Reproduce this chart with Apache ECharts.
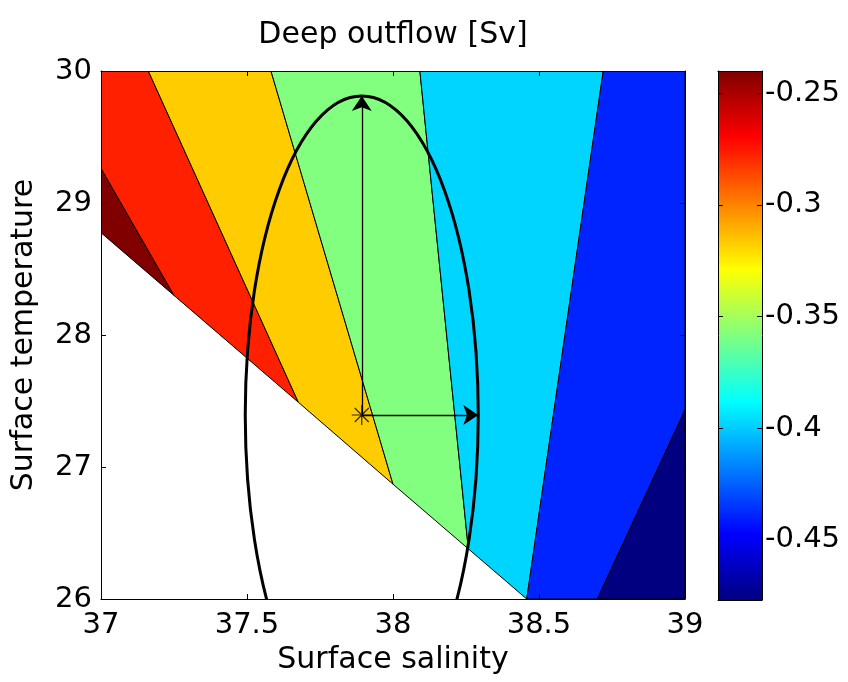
<!DOCTYPE html>
<html>
<head>
<meta charset="utf-8">
<script src="https://cdn.jsdelivr.net/npm/echarts@6/dist/echarts.min.js"></script>
<style>html,body{margin:0;padding:0;background:#fff}#c{width:848px;height:682px}</style>
</head>
<body>
<div id="c"></div>
<script>
// ---- data ----
const titleText = 'Deep outflow [Sv]';
const xName = 'Surface salinity';
const yName = 'Surface temperature';
const salinityRange = [37, 39];
const temperatureRange = [26, 30];
const colorRange = [-0.477, -0.240];
const colorbarTicks = [-0.45, -0.4, -0.35, -0.3, -0.25];

// filled-contour bands: level value and polygon (salinity, temperature)
const bandValues = [-0.240, -0.277, -0.317, -0.358, -0.398, -0.439, -0.477];
const bandPolygons = [
  [[37, 29.263], [37.25, 28.30], [37, 28.775]],
  [[37, 30], [37.162, 30], [37.676, 27.49], [37.25, 28.30], [37, 29.263]],
  [[37.162, 30], [37.582, 30], [38.0, 26.87], [37.676, 27.49]],
  [[37.582, 30], [38.092, 30], [38.258, 26.38], [38.0, 26.87]],
  [[38.092, 30], [38.720, 30], [38.458, 26], [38.258, 26.38]],
  [[38.720, 30], [39, 30], [39, 27.432], [38.700, 26], [38.458, 26]],
  [[39, 27.432], [39, 26], [38.700, 26]]
];

// ellipse (center, semi-axes) and arrows from the center
const ellipseCenter = [37.893, 27.394];
const ellipseRadii = [0.399, 2.417];
const arrowEnds = [[37.893, 29.811], [38.292, 27.394]];

// ---- chart ----
const FONT = 'DejaVu Sans';
const jetStops = ['#000080', '#0000ff', '#0080ff', '#00ffff', '#80ff80', '#ffff00', '#ff8000', '#ff0000', '#800000'];
const chart = echarts.init(document.getElementById('c'));

const black = { color: '#000', width: 1 };
const txt = { fontFamily: FONT, fontSize: 29, color: '#000' };
const nameTxt = { fontFamily: FONT, fontSize: 30, color: '#000' };

function frameAxis(o) {
  return Object.assign({
    type: 'value', z: 10,
    axisLine: { show: true, onZero: false, lineStyle: black },
    axisTick: { show: true, inside: true, length: 5, lineStyle: black },
    axisLabel: { show: false },
    splitLine: { show: false }
  }, o);
}

const option = {
  animation: false,
  backgroundColor: '#fff',
  textStyle: { fontFamily: FONT },
  title: {
    text: titleText, left: 393, top: 20, padding: 0, textAlign: 'center',
    textStyle: Object.assign({ fontWeight: 'normal' }, nameTxt)
  },
  grid: [
    { left: 101, top: 71, width: 584, height: 528, containLabel: false, outerBoundsMode: 'none' },
    { left: 718, top: 71, width: 44, height: 529, containLabel: false, outerBoundsMode: 'none' }
  ],
  xAxis: [
    frameAxis({ gridIndex: 0, min: salinityRange[0], max: salinityRange[1], interval: 0.5, position: 'bottom',
      axisLabel: Object.assign({ show: true, margin: 12 }, txt),
      name: xName, nameLocation: 'middle', nameGap: 46, nameMoveOverlap: false, nameTextStyle: nameTxt }),
    frameAxis({ gridIndex: 0, min: salinityRange[0], max: salinityRange[1], interval: 0.5, position: 'top' }),
    frameAxis({ gridIndex: 1, min: 0, max: 1, position: 'bottom', axisTick: { show: false } }),
    frameAxis({ gridIndex: 1, min: 0, max: 1, position: 'top', axisTick: { show: false } })
  ],
  yAxis: [
    frameAxis({ gridIndex: 0, min: temperatureRange[0], max: temperatureRange[1], interval: 1, position: 'left',
      axisLabel: Object.assign({ show: true, margin: 9 }, txt),
      name: yName, nameLocation: 'middle', nameGap: 62, nameRotate: 90, nameMoveOverlap: false, nameTextStyle: nameTxt }),
    frameAxis({ gridIndex: 0, min: temperatureRange[0], max: temperatureRange[1], interval: 1, position: 'right' }),
    frameAxis({ gridIndex: 1, min: colorRange[0], max: colorRange[1], position: 'right',
      axisTick: { show: true, inside: true, length: 5, lineStyle: black, customValues: colorbarTicks },
      axisLabel: Object.assign({ show: true, margin: 3, customValues: colorbarTicks }, txt) }),
    frameAxis({ gridIndex: 1, min: colorRange[0], max: colorRange[1], position: 'left',
      axisTick: { show: true, inside: true, length: 5, lineStyle: black, customValues: colorbarTicks } })
  ],
  visualMap: {
    type: 'continuous', show: false, min: colorRange[0], max: colorRange[1],
    dimension: 1, seriesIndex: 0, inRange: { color: jetStops }
  },
  series: [
    {
      type: 'custom', xAxisIndex: 0, yAxisIndex: 0, clip: true,
      data: bandValues.map((v, i) => [i, v]),
      renderItem: (params, api) => {
        const pts = bandPolygons[api.value(0)].map(p => api.coord(p));
        return { type: 'polygon', shape: { points: pts },
          style: { fill: api.visual('color'), stroke: '#000', lineWidth: 1 } };
      }
    },
    {
      type: 'custom', xAxisIndex: 0, yAxisIndex: 0, clip: true, z: 4,
      data: [[ellipseCenter[0], ellipseCenter[1], ellipseRadii[0], ellipseRadii[1]]],
      renderItem: (params, api) => {
        const c = api.coord([api.value(0), api.value(1)]);
        const s = api.size([api.value(2), api.value(3)]);
        return { type: 'ellipse', shape: { cx: c[0], cy: c[1], rx: s[0], ry: s[1] },
          style: { fill: 'none', stroke: '#000', lineWidth: 3 } };
      }
    },
    {
      type: 'lines', coordinateSystem: 'cartesian2d', xAxisIndex: 0, yAxisIndex: 0, z: 5,
      symbol: ['none', 'arrow'], symbolSize: 15,
      lineStyle: { color: '#000', width: 1.3, opacity: 1, curveness: 0 },
      itemStyle: { color: '#000' },
      data: arrowEnds.map(e => ({ coords: [ellipseCenter, e] }))
    },
    {
      type: 'scatter', xAxisIndex: 0, yAxisIndex: 0, z: 6,
      data: [ellipseCenter],
      symbol: 'path://M10 0L10 20M0 10L20 10M3 3L17 17M3 17L17 3', symbolSize: 20,
      itemStyle: { color: 'rgba(0,0,0,0)', borderColor: '#000', borderWidth: 1.2 }
    },
    {
      type: 'custom', xAxisIndex: 2, yAxisIndex: 2,
      data: [[0, colorRange[0], 1, colorRange[1]]],
      renderItem: (params, api) => {
        const a = api.coord([api.value(0), api.value(1)]);
        const b = api.coord([api.value(2), api.value(3)]);
        return { type: 'rect', shape: { x: a[0], y: b[1], width: b[0] - a[0], height: a[1] - b[1] },
          style: { fill: new echarts.graphic.LinearGradient(0, 1, 0, 0,
            jetStops.map((c, i) => ({ offset: i / (jetStops.length - 1), color: c }))) } };
      }
    }
  ]
};
chart.setOption(option);
</script>
</body>
</html>
